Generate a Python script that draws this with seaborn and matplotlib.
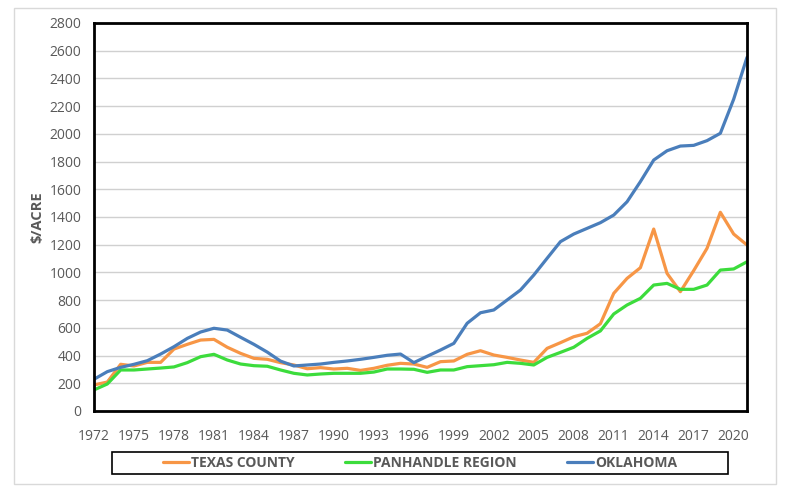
import matplotlib
matplotlib.use("Agg")
import matplotlib.pyplot as plt
from matplotlib.lines import Line2D
from matplotlib.patches import Rectangle
import seaborn as sns
import pandas as pd

years = list(range(1972, 2022))

texas_county = [188, 209, 337, 325, 351, 351, 447, 481, 512, 517,
                460, 416, 380, 373, 349, 332, 305, 313, 303, 308,
                293, 308, 330, 344, 339, 315, 356, 361, 409, 435,
                404, 387, 368, 351, 452, 493, 536, 561, 630, 849,
                957, 1034, 1313, 993, 861, 1013, 1174, 1434, 1277, 1198]

panhandle_region = [152, 195, 296, 296, 303, 310, 318, 349, 392, 409,
                    368, 339, 327, 323, 296, 272, 260, 267, 272, 272,
                    272, 281, 303, 303, 301, 279, 296, 296, 320, 327,
                    334, 351, 344, 332, 387, 423, 460, 524, 578, 700,
                    765, 813, 909, 921, 878, 878, 909, 1017, 1025, 1077]

oklahoma = [229, 284, 315, 337, 363, 411, 464, 524, 570, 597,
            584, 532, 481, 425, 360, 325, 332, 339, 351, 361,
            373, 387, 402, 411, 349, 395, 440, 488, 633, 709,
            729, 801, 873, 981, 1102, 1222, 1277, 1318, 1359, 1414,
            1510, 1655, 1811, 1878, 1912, 1917, 1951, 2004, 2250, 2552]

series_names = ["TEXAS COUNTY", "PANHANDLE REGION", "OKLAHOMA"]
series_colors = ["#F79646", "#3CDC3C", "#4A7EBB"]

df = pd.DataFrame({"year": years * 3,
                   "value": texas_county + panhandle_region + oklahoma,
                   "series": [s for s in series_names for _ in years]})

sns.set_style("white")
plt.rcParams["font.family"] = ["Open Sans", "DejaVu Sans"]

fig = plt.figure(figsize=(7.88, 4.96), dpi=100)
ax = fig.add_axes([94 / 788, 1 - 411 / 496, (747 - 94) / 788, (411 - 23) / 496])

sns.lineplot(data=df, x="year", y="value", hue="series", palette=series_colors,
             hue_order=series_names, linewidth=2.3, ax=ax, legend=False)

ax.set_xlim(1972, 2021)
ax.set_ylim(0, 2800)
ax.set_xticks(range(1972, 2022, 3))
ax.set_yticks(range(0, 2801, 200))
ax.yaxis.grid(True, color="#D0D0D0", linewidth=1)
ax.xaxis.grid(False)
ax.set_axisbelow(True)
for sp in ax.spines.values():
    sp.set_visible(True)
    sp.set_color("black")
    sp.set_linewidth(2)
ax.tick_params(axis="both", which="major", labelsize=10, labelcolor="#595959",
               color="#A6A6A6", length=5, width=1, direction="out")
ax.tick_params(axis="x", pad=8)
ax.tick_params(axis="y", pad=4)
ax.set_xlabel("")
ax.set_ylabel("$/ACRE", fontsize=10.5, fontweight="bold", color="#595959", labelpad=2)
ax.yaxis.set_label_coords(-0.076, 0.5)

# legend contents without frame; the wider Excel-style box is drawn separately
handles = [Line2D([0], [0], color=c, linewidth=2.3) for c in series_colors]
leg = fig.legend(handles, series_names, loc="center", ncol=3,
                 bbox_to_anchor=((112 + 728) / 2 / 788, 1 - 463 / 496),
                 frameon=False, handlelength=1.9, handletextpad=0.15,
                 columnspacing=3.6, prop={"size": 10, "weight": "bold"})
for t in leg.get_texts():
    t.set_color("#595959")

fig.patches.append(Rectangle((112 / 788, 1 - 474 / 496), (728 - 112) / 788, (474 - 452) / 496,
                             transform=fig.transFigure, fill=False,
                             edgecolor="black", linewidth=1.2))
fig.patches.append(Rectangle((14 / 788, 1 - 484 / 496), (776 - 14) / 788, (484 - 8) / 496,
                             transform=fig.transFigure, fill=False,
                             edgecolor="#D9D9D9", linewidth=1))

fig.savefig("out.png", dpi=100)
